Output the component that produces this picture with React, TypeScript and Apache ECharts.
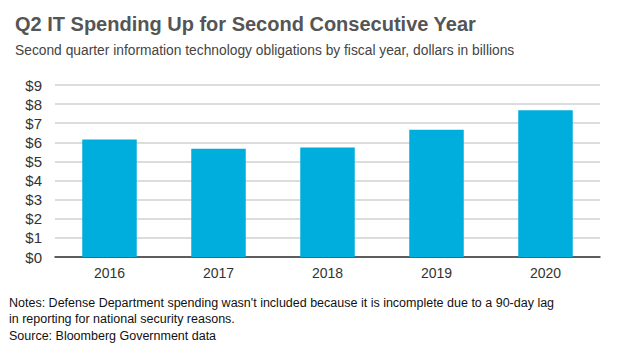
import React, { useEffect, useRef } from "react";
import * as echarts from "echarts";

const categories = ["2016", "2017", "2018", "2019", "2020"];
const spending = [6.15, 5.67, 5.73, 6.66, 7.68];
const yTicks = [0, 1, 2, 3, 4, 5, 6, 7, 8, 9];

const titleText = "Q2 IT Spending Up for Second Consecutive Year";
const subtitleText = "Second quarter information technology obligations by fiscal year, dollars in billions";
const notesLines = [
  "Notes: Defense Department spending wasn't included because it is incomplete due to a 90-day lag",
  "in reporting for national security reasons.",
  "Source: Bloomberg Government data",
];

export default function App() {
  const ref = useRef<HTMLDivElement>(null);
  useEffect(() => {
    if (!ref.current) return;
    const chart = echarts.init(ref.current, undefined, { renderer: "svg" });
    const font = "'Liberation Sans', Arial, sans-serif";
    chart.setOption({
      animation: false,
      backgroundColor: "#ffffff",
      title: [
        {
          text: titleText,
          left: 10,
          top: 9,
          textStyle: { fontFamily: font, fontSize: 20, fontWeight: "bold", color: "#555555" },
        },
        {
          text: subtitleText,
          left: 10,
          top: 38,
          textStyle: { fontFamily: font, fontSize: 13.8, fontWeight: "normal", color: "#444444" },
        },
      ],
      grid: { left: 55, right: 20, top: 85, bottom: 100, containLabel: false },
      xAxis: {
        type: "category",
        data: categories,
        axisLine: { lineStyle: { color: "#333333", width: 1.5 } },
        axisTick: { show: false },
        axisLabel: { fontFamily: font, fontSize: 14, color: "#333333", margin: 9 },
      },
      yAxis: {
        type: "value",
        min: yTicks[0],
        max: yTicks[yTicks.length - 1],
        interval: 1,
        axisLine: { show: false },
        axisTick: { show: false },
        splitLine: { lineStyle: { color: "#d0d0d0", width: 1.5 } },
        axisLabel: {
          fontFamily: font,
          fontSize: 15,
          color: "#333333",
          margin: 13,
          formatter: (v: number) => "$" + v,
        },
      },
      series: [
        {
          type: "bar",
          data: spending,
          barWidth: "50%",
          itemStyle: { color: "#00AEDD" },
        },
      ],
      graphic: notesLines.map((line, i) => ({
        type: "text",
        left: 9,
        top: 296 + i * 16.5,
        style: { text: line, fontFamily: font, fontSize: 12.5, fill: "#111111" },
      })),
    });
    return () => chart.dispose();
  }, []);
  return (
    <div
      ref={ref}
      style={{ position: "fixed", left: 0, top: 0, width: 620, height: 357 }}
    />
  );
}
